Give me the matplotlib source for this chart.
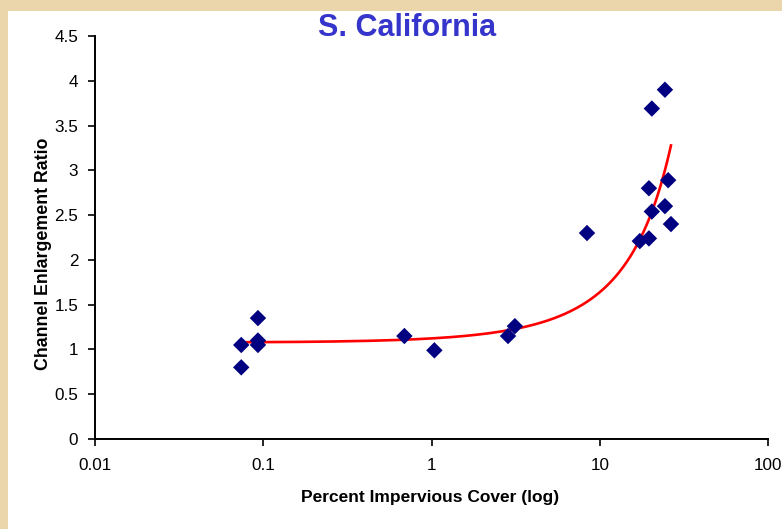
import numpy as np
import matplotlib
matplotlib.use("Agg")
from matplotlib import pyplot as plt
from matplotlib.patches import Rectangle

plt.rcParams['font.family'] = ['Liberation Sans', 'DejaVu Sans']

# percent impervious cover vs channel enlargement ratio
impervious = [0.074, 0.074, 0.093, 0.093, 0.093, 0.69, 1.04, 2.85, 3.13, 8.4,
              17.3, 19.6, 19.6, 20.4, 20.4, 24.4, 24.4, 25.5, 26.5]
enlargement = [1.05, 0.80, 1.35, 1.10, 1.05, 1.15, 0.99, 1.15, 1.26, 2.30,
               2.21, 2.24, 2.80, 2.54, 3.69, 2.60, 3.90, 2.89, 2.40]

# exponential trendline (excel style) - parameters
trend_a = 1.077
trend_b = 0.0420

x_ticks = [0.01, 0.1, 1, 10, 100]
x_tick_labels = ['0.01', '0.1', '1', '10', '100']
y_ticks = [0, 0.5, 1, 1.5, 2, 2.5, 3, 3.5, 4, 4.5]
y_tick_labels = ['0', '0.5', '1', '1.5', '2', '2.5', '3', '3.5', '4', '4.5']

fig = plt.figure(figsize=(7.82, 5.29), dpi=100)
fig.patch.set_facecolor('#EAD6AA')
# white card behind the chart
fig.patches.append(Rectangle((8 / 782, 0), 1, 1 - 11 / 529, transform=fig.transFigure,
                             facecolor='white', edgecolor='none', zorder=-5))

ax = fig.add_axes([95 / 782, 90 / 529, 673 / 782, 403 / 529])
ax.set_facecolor('white')
ax.set_xscale('log')
ax.set_xlim(0.01, 100)
ax.set_ylim(0, 4.5)

xs = np.linspace(min(impervious), max(impervious), 300)
ax.plot(xs, trend_a * np.exp(trend_b * xs), color='#FF0000', lw=1.9, zorder=2)
ax.scatter(impervious, enlargement, marker='D', s=70, color='#000080',
           edgecolors='none', zorder=3, clip_on=False)

ax.set_xticks(x_ticks)
ax.set_xticklabels(x_tick_labels)
ax.xaxis.set_minor_locator(matplotlib.ticker.NullLocator())
ax.set_yticks(y_ticks)
ax.set_yticklabels(y_tick_labels)
ax.tick_params(axis='both', direction='out', length=5, width=1.2, labelsize=12.3,
               colors='black')
ax.tick_params(axis='x', pad=9)
ax.tick_params(axis='y', pad=7)

for s in ['top', 'right']:
    ax.spines[s].set_visible(False)
for s in ['left', 'bottom']:
    ax.spines[s].set_linewidth(1.4)

ax.set_xlabel('Percent Impervious Cover (log)', fontsize=12.5, fontweight='bold')
ax.set_ylabel('Channel Enlargement Ratio', fontsize=12.8, fontweight='bold')
ax.xaxis.label.set_va('center')
ax.yaxis.label.set_va('center')
ax.xaxis.set_label_coords(0.498, -0.144)
ax.yaxis.set_label_coords(-0.077, 0.46)

fig.text(407 / 782, 1 - 28 / 529, 'S. California', ha='center', va='center',
         fontsize=22, fontweight='bold', color='#3535CC')

fig.savefig('out.png', dpi=100, facecolor=fig.get_facecolor())
